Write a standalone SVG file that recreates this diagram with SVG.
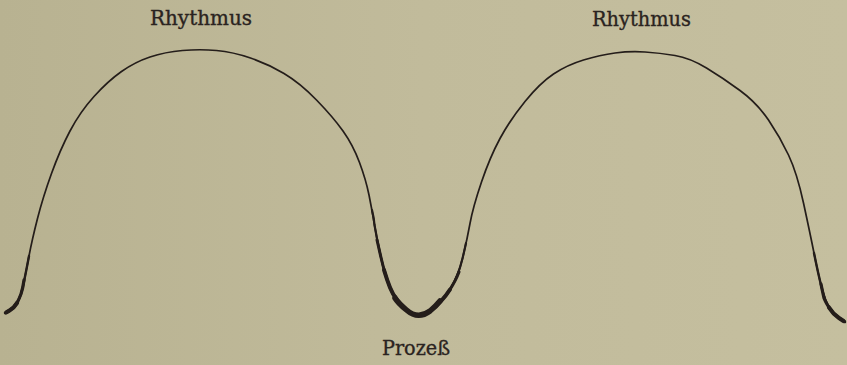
<svg xmlns="http://www.w3.org/2000/svg" width="847" height="365" viewBox="0 0 847 365">
  <defs>
    <linearGradient id="bg" x1="0" y1="0" x2="1" y2="0">
      <stop offset="0" stop-color="#b8b291"/>
      <stop offset="0.5" stop-color="#c1bb9b"/>
      <stop offset="1" stop-color="#c5bf9f"/>
    </linearGradient>
  </defs>
  <style>
    .curve { fill: none; stroke: #241d1a; stroke-linecap: round; stroke-linejoin: round; }
    .label { font-family: "DejaVu Serif", "Liberation Serif", serif; font-size: 20px; fill: #2a2320; stroke: #2a2320; stroke-width: 0.35; }
  </style>
  <rect x="0" y="0" width="847" height="365" fill="url(#bg)"/>
  <g id="connectors">
    <path class="curve" stroke-width="1.7" d="M5,313 L9.5,310.5 Q14,308 17.5,302 Q21,296 23.5,284 Q26,272 29,256 Q32,240 37.5,218.5 Q43,197 51.5,173.5 Q60,150 70,131 Q80,112 94,96.5 Q108,81 121.5,71.5 Q135,62 150,57 Q165,52 182.5,50.5 Q200,49 216.5,50.5 Q233,52 250.5,58 Q268,64 284,73.5 Q300,83 316.5,100 Q333,117 343,131 Q353,145 359.5,162.5 Q366,180 369,195 Q372,210 374.5,225 Q377,240 381,257.5 Q385,275 390,287.5 Q395,300 406.5,310 Q418,320 430,311 Q442,302 450,289.5 Q458,277 462.5,258.5 Q467,240 470,223.5 Q473,207 481.5,182 Q490,157 500,138.5 Q510,120 525,101.5 Q540,83 553.5,74 Q567,65 583.5,60 Q600,55 615,53 Q630,51 645,52 Q660,53 675,55.5 Q690,58 706.5,68 Q723,78 740,90.5 Q757,103 768.5,120 Q780,137 788.5,155 Q797,173 803.5,203 Q810,233 814,253 Q818,273 821.5,287 Q825,301 829,307.5 Q833,314 839,318 L845,322"/>
    <path class="curve" stroke-width="2.2" d="M372,210 Q374,218 374.5,225 Q377,240 381,257.5 Q385,275 390,287.5 Q395,300 406.5,310 Q418,320 430,311 Q442,302 450,289.5 Q458,277 462.5,258.5 Q465,248 466,243"/>
    <path class="curve" stroke-width="3" d="M377,240 Q379,249 381,257.5 Q385,275 390,287.5 Q395,300 406.5,310 Q418,320 430,311 Q442,302 450,289.5 Q456,280 459,272"/>
    <path class="curve" stroke-width="4" d="M384,270 Q387,280 390,287.5 Q395,300 406.5,310 Q418,320 430,311 Q442,302 450,289.5"/>
    <path class="curve" stroke-width="5.5" d="M395,298 Q398,303 406.5,310 Q418,320 430,311 Q436,306 440,301"/>
    <path class="curve" stroke-width="2.4" d="M29,256 Q26,272 23.5,284 Q21,296 17.5,302 Q14,308 9.5,310.5 L5,313"/>
    <path class="curve" stroke-width="3.2" d="M24,280 Q23,288 21,294 Q19,299 17.5,302 Q14,308 9.5,310.5 L5.5,312.8"/>
    <path class="curve" stroke-width="4.2" d="M17,303 Q14,308 9.5,310.5 L6.5,312.3"/>
    <path class="curve" stroke-width="2.4" d="M814,253 Q818,273 821.5,287 Q825,301 829,307.5 Q833,314 839,318 L845,322"/>
    <path class="curve" stroke-width="3.2" d="M821,284 Q823,294 824,298 Q825,301 829,307.5 Q833,314 839,318 L844.5,321.5"/>
    <path class="curve" stroke-width="4.2" d="M829,307.5 Q833,314 839,318 L843.5,321"/>
  </g>
  <g id="rhythmus-left">
    <text class="label" x="150" y="25" textLength="102" lengthAdjust="spacingAndGlyphs">Rhythmus</text>
  </g>
  <g id="rhythmus-right">
    <text class="label" x="592" y="26" textLength="99" lengthAdjust="spacingAndGlyphs">Rhythmus</text>
  </g>
  <g id="prozess">
    <text class="label" x="382" y="355" textLength="68" lengthAdjust="spacingAndGlyphs">Prozeß</text>
  </g>
</svg>
